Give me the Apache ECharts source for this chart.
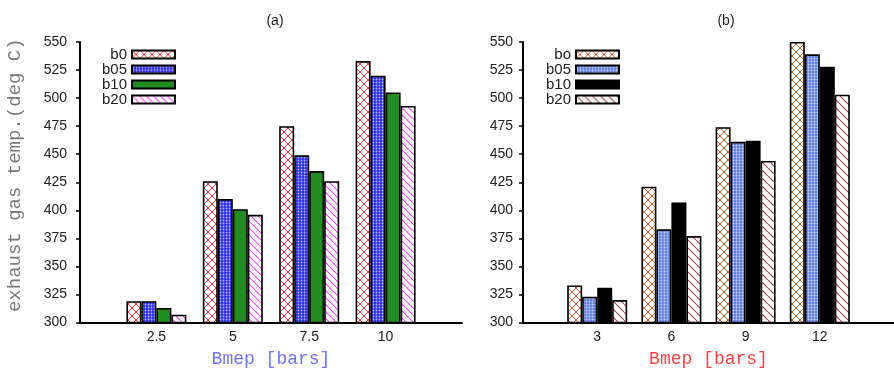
<!DOCTYPE html>
<html>
<head>
<meta charset="utf-8">
<script src="https://cdn.jsdelivr.net/npm/echarts@6/dist/echarts.min.js"></script>
<style>html,body{margin:0;padding:0;background:#fff}#c{width:894px;height:374px}</style>
</head>
<body>
<div id="c"></div>
<script>
// ---- data ----
const catsA = ['2.5', '5', '7.5', '10'];
const namesA = ['b0', 'b05', 'b10', 'b20'];
const a_b0  = [319, 426, 475, 533];
const a_b05 = [319, 410, 449, 520];
const a_b10 = [313, 401, 435, 505];
const a_b20 = [307, 396, 426, 493];

const catsB = ['3', '6', '9', '12'];
const namesB = ['bo', 'b05', 'b10', 'b20'];
const b_bo  = [333, 421, 474, 550];
const b_b05 = [323, 383, 461, 539];
const b_b10 = [331, 407, 462, 528];
const b_b20 = [320, 377, 444, 503];

// ---- patterns ----
function cross(color, p) {
  const c = document.createElement('canvas'); c.width = p; c.height = p;
  const g = c.getContext('2d');
  g.fillStyle = '#fff'; g.fillRect(0, 0, p, p);
  g.strokeStyle = color; g.lineWidth = 1;
  g.beginPath();
  g.moveTo(0, 0); g.lineTo(p, p);
  g.moveTo(p, 0); g.lineTo(0, p);
  g.stroke();
  return { image: c, repeat: 'repeat' };
}
function dots(bg, p) {
  const c = document.createElement('canvas'); c.width = p; c.height = p;
  const g = c.getContext('2d');
  g.fillStyle = bg; g.fillRect(0, 0, p, p);
  g.fillStyle = 'rgba(255,255,255,0.7)';
  g.beginPath(); g.arc(p / 2, p / 2, 0.9, 0, Math.PI * 2); g.fill();
  return { image: c, repeat: 'repeat' };
}
function diag(color, p) {
  const c = document.createElement('canvas'); c.width = p; c.height = p;
  const g = c.getContext('2d');
  g.fillStyle = '#fff'; g.fillRect(0, 0, p, p);
  g.strokeStyle = color; g.lineWidth = 1.1;
  g.beginPath();
  g.moveTo(0, 0); g.lineTo(p, p);
  g.moveTo(-p, 0); g.lineTo(0, p);
  g.moveTo(p, 0); g.lineTo(2 * p, p);
  g.stroke();
  return { image: c, repeat: 'repeat' };
}

const fillsA = [cross('#ff3030', 8), dots('#2a2af0', 3), '#228b22', diag('#ff40ff', 7)];
const fillsB = [cross('#d0602a', 8), dots('#6080e6', 3), '#000000', diag('#b04545', 8)];
const dataA = [a_b0, a_b05, a_b10, a_b20];
const dataB = [b_bo, b_b05, b_b10, b_b20];

const font = 'Liberation Sans';
const mono = 'Liberation Mono';

function xAxis(gi, cats, nameColor, labelName) {
  return {
    type: 'value', gridIndex: gi, min: -1, max: 4,
    name: labelName, nameLocation: 'middle', nameGap: 28,
    nameTextStyle: { fontFamily: mono, fontSize: 18, color: nameColor },
    axisLine: { show: true, onZero: false, lineStyle: { color: '#000', width: 2 } },
    axisTick: { show: false },
    splitLine: { show: false },
    axisLabel: {
      customValues: cats.map((c, i) => i),
      formatter: v => cats[Math.round(v)] || '',
      fontFamily: font, fontSize: 14, color: '#222', margin: 8
    }
  };
}
function yAxis(gi, margin, withName) {
  const ax = {
    type: 'value', gridIndex: gi, min: 300, max: 550, interval: 25,
    axisLine: { show: true, onZero: false, lineStyle: { color: '#000', width: 2 } },
    axisTick: { show: true, inside: false, length: 4, lineStyle: { color: '#000', width: 1.5 } },
    splitLine: { show: false },
    axisLabel: { fontFamily: font, fontSize: 14, color: '#222', margin: margin }
  };
  if (withName) {
    ax.name = 'exhaust gas temp.(deg C)';
    ax.nameLocation = 'middle';
    ax.nameRotate = 90;
    ax.nameGap = 56;
    ax.nameTextStyle = { fontFamily: mono, fontSize: 19, color: '#7a7a7a', padding: [0, 0, 0, 14] };
  }
  return ax;
}

const series = [];
namesA.forEach((n, k) => {
  series.push({
    type: 'bar', name: n, xAxisIndex: 0, yAxisIndex: 0,
    barWidth: 15, barGap: '0%',
    itemStyle: { color: fillsA[k], borderColor: '#000', borderWidth: 1.6 },
    data: dataA[k].map((v, i) => [i, v])
  });
});
namesB.forEach((n, k) => {
  series.push({
    type: 'bar', name: 'R ' + n, xAxisIndex: 1, yAxisIndex: 1,
    barWidth: 15, barGap: '0%',
    itemStyle: { color: fillsB[k], borderColor: '#000', borderWidth: 1.6 },
    data: dataB[k].map((v, i) => [i, v])
  });
});

const legendCommon = {
  orient: 'vertical', align: 'right', top: 47, itemGap: 0, padding: 0,
  itemWidth: 43, itemHeight: 8, selectedMode: false,
  icon: 'rect',
  textStyle: { fontFamily: font, fontSize: 15, color: '#222', lineHeight: 15 }
};

const option = {
  animation: false,
  backgroundColor: '#fff',
  title: [
    { text: '(a)', left: 270, top: 9, textAlign: 'center', textStyle: { fontFamily: font, fontSize: 14, fontWeight: 'normal', color: '#222' } },
    { text: '(b)', left: 721, top: 9, textAlign: 'center', textStyle: { fontFamily: font, fontSize: 14, fontWeight: 'normal', color: '#222' } }
  ],
  legend: [
    Object.assign({}, legendCommon, { right: 718, data: namesA }),
    Object.assign({}, legendCommon, { right: 274, data: namesB.map(n => 'R ' + n), formatter: n => n.slice(2) })
  ],
  grid: [
    { left: 80, top: 42, width: 382, height: 280.5 },
    { left: 523, top: 42, width: 383, height: 280.5 }
  ],
  xAxis: [xAxis(0, catsA, '#7070ff', 'Bmep [bars]'), xAxis(1, catsB, '#ff4040', 'Bmep [bars]')],
  yAxis: [yAxis(0, 13, true), yAxis(1, 10, false)],
  series: series
};

const chart = echarts.init(document.getElementById('c'), null, { renderer: 'canvas' });
chart.setOption(option);
</script>
</body>
</html>
